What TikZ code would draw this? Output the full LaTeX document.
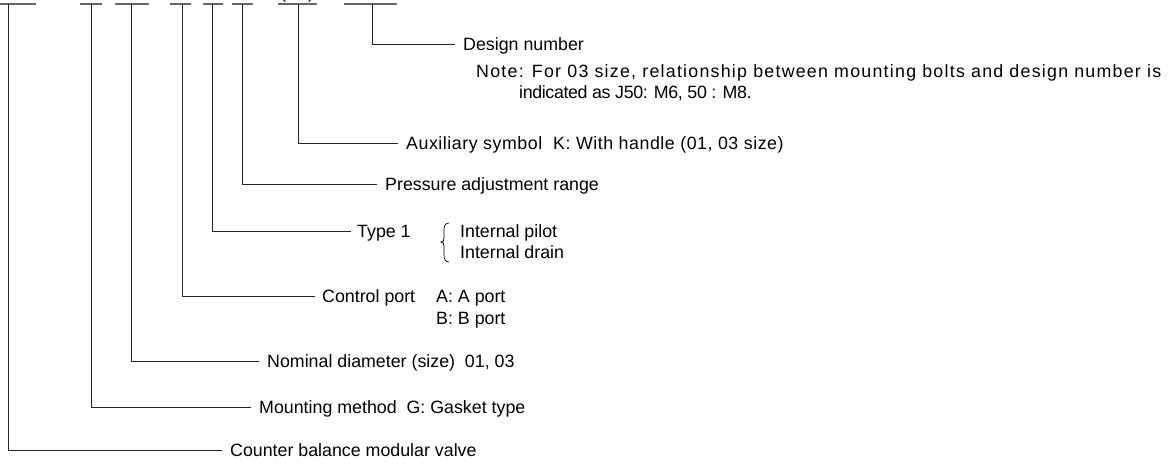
\documentclass[tikz,border=0pt]{standalone}
\usepackage{fontspec}
\setmainfont{Liberation Sans}
\begin{document}
\begin{tikzpicture}[x=1pt,y=-1pt,
  font=\fontsize{17.8}{21}\selectfont,
  ln/.style={line width=0.9pt, draw=black!85},
  bar/.style={line width=1.1pt, draw=black!60},
  lbl/.style={anchor=west, inner xsep=0pt, inner ysep=0pt, text height=12.7pt, text depth=0pt}]
\useasboundingbox (0,0) rectangle (1168,464);
% top bars
\draw[bar] (0,4) -- (36,4);
\draw[bar] (80,4) -- (102,4);
\draw[bar] (115,4) -- (149,4);
\draw[bar] (170,4) -- (191,4);
\draw[bar] (203,4) -- (223,4);
\draw[bar] (232,4) -- (253,4);
\draw[bar] (278,4) -- (317,4);
\draw[bar] (344,4) -- (397,4);
\node[anchor=base west, inner sep=0pt] (pl) at (280,-2) {(};
\node[anchor=base west, inner sep=0pt] (pr) at (308,-2) {)};
% connector start points
\coordinate (b1) at (8,4);
\coordinate (b2) at (91,4);
\coordinate (b3) at (131,4);
\coordinate (b4) at (182,4);
\coordinate (b5) at (212,4);
\coordinate (b6) at (242,4);
\coordinate (b7) at (298,4);
\coordinate (b8) at (372,4);
% labels
\node[lbl] (l8) at (463,44) {Design number};
\node[lbl] (n1) at (476,71) {\addfontfeature{LetterSpace=7}Note: For 03 size, relationship between mounting bolts and design number is};
\node[lbl] (n2) at (519,92) {\addfontfeature{LetterSpace=-2}indicated as J50: M6, 50 : M8.};
\node[lbl] (l7) at (406,143) {\addfontfeature{LetterSpace=3}Auxiliary symbol\ \ K: With handle (01, 03 size)};
\node[lbl] (l6) at (385,184) {Pressure adjustment range};
\node[lbl] (l5) at (357,231) {Type 1};
\node[lbl] (t1) at (460,231) {Internal pilot};
\node[lbl] (t2) at (460,252) {Internal drain};
\node[lbl] (l4) at (322,296) {Control port};
\node[lbl] (c1) at (436,296) {A: A port};
\node[lbl] (c2) at (436,318) {B: B port};
\node[lbl] (l3) at (267,361) {Nominal diameter (size)\ \ 01, 03};
\node[lbl] (l2) at (259,407) {Mounting method\ \ G: Gasket type};
\node[lbl] (l1) at (230,450) {Counter balance modular valve};
% brace
\draw[line width=0.7pt] (449,223) .. controls (445,223) and (444,226) .. (444,230)
  -- (444,238) .. controls (444,241) and (443,242) .. (441,242)
  .. controls (443,242) and (444,243) .. (444,246)
  -- (444,255) .. controls (444,259) and (445,262) .. (449,262);
% connectors
\draw[ln] (b1) |- ([xshift=-8pt]l1.west);
\draw[ln] (b2) |- ([xshift=-8pt]l2.west);
\draw[ln] (b3) |- ([xshift=-8pt]l3.west);
\draw[ln] (b4) |- ([xshift=-7pt]l4.west);
\draw[ln] (b5) |- ([xshift=-6pt]l5.west);
\draw[ln] (b6) |- ([xshift=-8pt]l6.west);
\draw[ln] (b7) |- ([xshift=-8pt]l7.west);
\draw[ln] (b8) |- ([xshift=-8pt]l8.west);
\end{tikzpicture}
\end{document}
